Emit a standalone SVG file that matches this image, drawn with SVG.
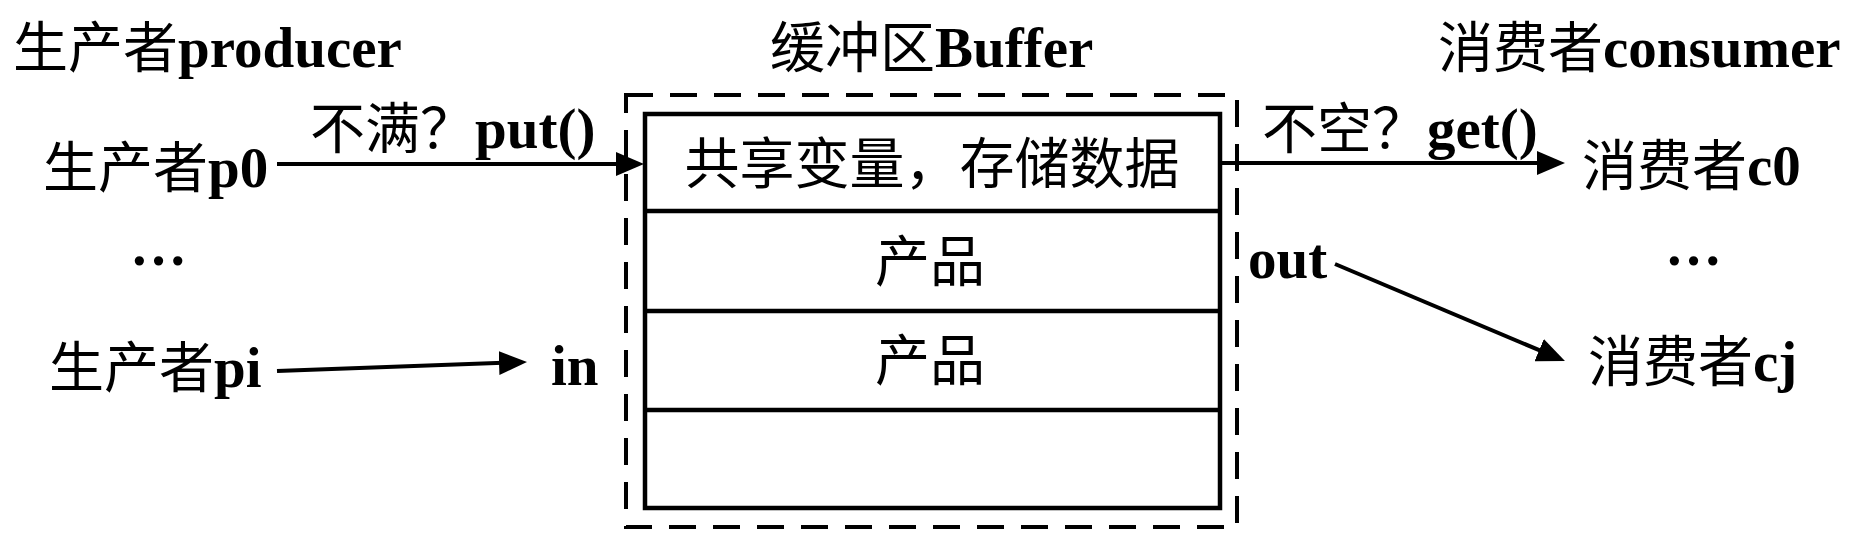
<svg xmlns="http://www.w3.org/2000/svg" width="1862" height="552" viewBox="0 0 1862 552">
<defs>
<style>
.t { font-family: "Liberation Serif", "Noto Sans CJK SC", serif; font-size: 55px; fill: #000; }
.b { font-weight: bold; font-size: 57px; }
.c { text-anchor: middle; }
.box { fill: #fff; stroke: #000; stroke-width: 4.5; }
.row { stroke: #000; stroke-width: 4.5; }
.dash { fill: none; stroke: #000; stroke-width: 4; stroke-dasharray: 27 17; }
.arr { fill: none; stroke: #000; stroke-width: 4; marker-end: url(#ah); }
</style>
<marker id="ah" viewBox="0 0 28 24" refX="20" refY="12" markerWidth="28" markerHeight="24" markerUnits="userSpaceOnUse" orient="auto">
<path d="M0,0 L28,12 L0,24 z" fill="#000"/>
</marker>
</defs>
<rect width="1862" height="552" fill="#fff"/>
<g id="title-producer"><text class="t" x="13" y="67">生产者<tspan class="b">producer</tspan></text></g>
<g id="title-buffer"><text class="t" x="770" y="67">缓冲区<tspan class="b">Buffer</tspan></text></g>
<g id="title-consumer"><text class="t" x="1438" y="67">消费者<tspan class="b">consumer</tspan></text></g>
<g id="buffer">
<rect class="dash" x="626" y="95" width="611" height="432"/>
<rect class="box" x="645" y="114" width="575" height="394"/>
<line class="row" x1="645" y1="211" x2="1220" y2="211"/>
<line class="row" x1="645" y1="311" x2="1220" y2="311"/>
<line class="row" x1="645" y1="410" x2="1220" y2="410"/>
<text class="t c" x="932" y="183">共享变量，存储数据</text>
<text class="t c" x="930" y="281">产品</text>
<text class="t c" x="930" y="380">产品</text>
</g>
<g id="producer-p0"><text class="t" x="43" y="187">生产者<tspan class="b">p0</tspan></text></g>
<g id="producer-dots"><text class="t b" x="130" y="265">…</text></g>
<g id="producer-pi"><text class="t" x="49" y="387">生产者<tspan class="b">pi</tspan></text></g>
<g id="consumer-c0"><text class="t" x="1582" y="185">消费者<tspan class="b">c0</tspan></text></g>
<g id="consumer-dots"><text class="t b" x="1665" y="265">…</text></g>
<g id="consumer-cj"><text class="t" x="1588" y="381">消费者<tspan class="b">cj</tspan></text></g>
<g id="connectors">
<line class="arr" x1="277" y1="164" x2="636" y2="164"/>
<line class="arr" x1="277" y1="371" x2="519" y2="362.3"/>
<line class="arr" x1="1220" y1="163" x2="1557" y2="163"/>
<line class="arr" x1="1335" y1="264" x2="1557.6" y2="357.9"/>
<text class="t" x="310" y="148">不满？<tspan class="b">put()</tspan></text>
<text class="t" x="1262" y="148">不空？<tspan class="b">get()</tspan></text>
<text class="t b" x="551" y="385">in</text>
<text class="t b" x="1248" y="278">out</text>
</g>
</svg>
